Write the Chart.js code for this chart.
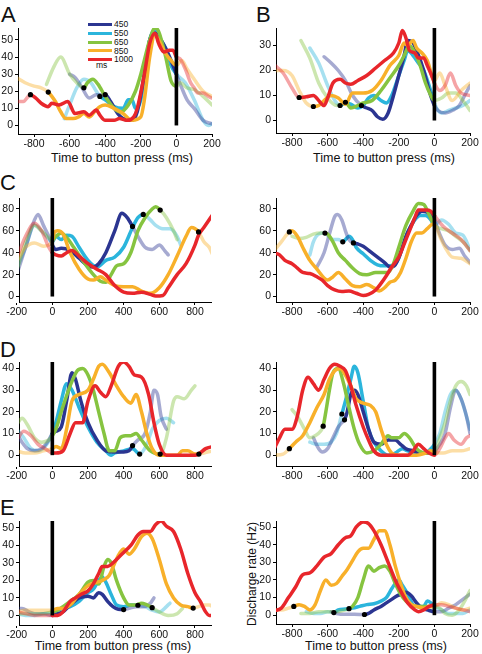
<!DOCTYPE html>
<html>
<head>
<meta charset="utf-8">
<script src="https://cdn.jsdelivr.net/npm/chart.js@4.4.1/dist/chart.umd.min.js"></script>
<style>
  body { margin: 0; background: #fff; width: 482px; height: 654px; overflow: hidden; position: relative; font-family: "Liberation Sans", Arial, sans-serif; }
  canvas { position: absolute; }
  .txt { position: absolute; color: #111; white-space: nowrap; }
  .letter { font-size: 22px; line-height: 22px; }
  .title { font-size: 12.5px; line-height: 16px; text-align: center; width: 220px; }
  .leg { font-size: 8.5px; line-height: 10px; }
  .legline { position: absolute; height: 3px; width: 24px; }
</style>
</head>
<body>

<div class="txt letter" style="left:1px;top:4px">A</div>
<div class="txt letter" style="left:256px;top:4px">B</div>
<div class="txt letter" style="left:0px;top:172px">C</div>
<div class="txt letter" style="left:0px;top:339px">D</div>
<div class="txt letter" style="left:0px;top:497px">E</div>

<div class="txt title" style="left:12px;top:150px">Time to button press (ms)</div>
<div class="txt title" style="left:274px;top:150px">Time to button press (ms)</div>
<div class="txt title" style="left:3px;top:638px">Time from button press (ms)</div>
<div class="txt title" style="left:266px;top:638px">Time to button press (ms)</div>
<div class="txt title" style="left:142px;top:566px;transform:rotate(-90deg);font-size:12px">Discharge rate (Hz)</div>

<div id="legend"></div>

<script>
// durees des essais (ms) et couleurs
const durations = ["450", "550", "650", "850", "1000"];
const lineColors = ["#2b3591", "#2bb5dc", "#86c440", "#f8b02a", "#e8262b"];

// ticks
const toTicks = [-800, -600, -400, -200, 0, 200];
const fromTicks = [-200, 0, 200, 400, 600, 800];
const aYTicks = [0, 10, 20, 30, 40, 50];
const bYTicks = [0, 10, 20, 30];
const cYTicks = [0, 20, 40, 60, 80];
const dYTicks = [0, 10, 20, 30, 40];
const eYTicks = [0, 10, 20, 30, 40, 50];

// Panel A (temps avant appui) [t, Hz]
const a450 = [[-600,30],[-570,28],[-530,22],[-490,16],[-450,18],[-400,18],[-370,14],[-330,7],[-300,4],[-250,3],[-220,8],[-180,30],[-150,50],[-120,54],[-100,52],[-60,45],[-30,38],[0,30],[30,22],[60,15],[100,10],[150,3],[200,1]];
const a550 = [[-630,4],[-600,12],[-560,22],[-520,27],[-480,25],[-450,20],[-430,17],[-400,15],[-350,11],[-300,10],[-270,15],[-250,15],[-230,10],[-200,15],[-150,50],[-120,56],[-100,52],[-60,45],[-30,35],[0,30],[50,25],[100,15],[150,3],[180,0],[200,1]];
const a650 = [[-730,24],[-690,34],[-650,40],[-600,30],[-560,25],[-520,22],[-500,25],[-470,27],[-440,24],[-400,17],[-350,10],[-310,8],[-270,12],[-230,20],[-200,30],[-150,50],[-120,57],[-100,55],[-60,40],[-30,26],[0,23],[20,25],[60,22],[100,21],[150,17],[200,12]];
const a850 = [[-900,28],[-850,25],[-800,23],[-760,22],[-720,19.5],[-700,17],[-680,14],[-650,8],[-620,4],[-580,4],[-550,5],[-520,7],[-490,5],[-460,8],[-430,11],[-400,12],[-350,10],[-300,7],[-250,3],[-200,5],[-180,15],[-150,40],[-120,53],[-100,50],[-60,42],[-30,38],[0,35],[30,38],[60,33],[100,27],[150,20],[200,17]];
const a1000 = [[-900,14],[-860,14],[-820,18],[-790,16],[-760,13],[-720,11],[-700,13],[-660,12],[-610,14],[-570,7],[-520,8],[-490,6],[-450,9],[-430,6],[-400,3],[-350,3],[-320,4],[-280,3],[-240,5],[-220,10],[-180,30],[-150,48],[-120,54],[-100,48],[-70,43],[-40,44],[-20,44],[0,40],[20,39],[50,33],[80,25],[100,22],[120,19],[150,19],[180,17],[200,16]];
const aDots = [[-400,18],[-430,17],[-520,22],[-720,19.5],[-820,18]];

// Panel B
const b450 = [[-620,25.5],[-580,23],[-540,20],[-500,16],[-460,10],[-410,6],[-380,5],[-350,4],[-320,1.5],[-290,0.5],[-260,3],[-230,10],[-200,18],[-170,26],[-150,32],[-120,31],[-100,28],[-60,20],[-30,12],[0,6],[20,4],[60,3],[100,4],[140,6],[170,10],[200,14]];
const b550 = [[-700,29],[-650,23],[-600,14],[-560,8],[-530,6],[-500,7],[-470,6.5],[-430,5],[-400,6],[-370,9],[-340,10],[-300,8],[-270,7],[-240,10],[-200,18],[-170,24],[-150,28],[-120,26],[-90,23],[-60,20],[-30,14],[0,7],[20,4],[40,3],[80,4],[120,5],[160,6],[200,8]];
const b650 = [[-750,32],[-700,25],[-650,15],[-600,9],[-550,6],[-500,7.3],[-470,5],[-430,6],[-400,7],[-350,8],[-300,12],[-250,17],[-200,22],[-170,26],[-140,30],[-110,27],[-80,22],[-50,15],[-20,10],[0,8],[40,9],[80,11],[120,11],[160,8],[200,4]];
const b850 = [[-900,20],[-850,20],[-800,18],[-760,12],[-720,7],[-680,5.6],[-650,6],[-620,8],[-580,10],[-540,9],[-500,6.5],[-460,11],[-400,11],[-350,12],[-300,16],[-250,22],[-200,26],[-170,31],[-150,30],[-120,32],[-100,29],[-70,27],[-40,24],[0,16],[30,19],[60,14],[100,8],[150,12],[200,15]];
const b1000 = [[-900,22.3],[-850,19],[-800,13],[-760,9.2],[-720,9.5],[-680,10],[-650,8],[-620,6],[-600,9],[-570,15],[-530,16.5],[-500,15],[-470,14.5],[-430,16],[-380,18],[-330,21],[-280,24],[-230,27],[-200,31],[-180,36],[-160,33],[-140,28],[-110,27],[-90,25],[-60,25],[-40,22],[-10,17],[0,15],[30,12],[60,14],[90,19],[120,14],[150,11],[200,10]];
const bDots = [[-410,6],[-530,6],[-500,7.3],[-680,5.6],[-760,9.2]];

// Panel C gauche (temps depuis l'appui)
const cL450 = [[-200,20],[-150,45],[-100,70],[-80,75],[-50,65],[-20,55],[0,47],[20,43],[50,44],[100,42],[150,35],[200,28],[230,27],[260,30],[300,40],[350,60],[390,76],[420,72],[450,64],[480,55],[520,45],[560,43],[600,47],[630,42],[650,38]];
const cL550 = [[-200,25],[-150,45],[-100,65],[-50,58],[0,50],[20,55],[50,52],[80,56],[110,55],[150,45],[200,33],[250,27],[300,33],[350,36],[400,45],[450,63],[480,72],[510,75],[550,70],[580,65],[620,62],[660,62],[700,55],[720,47]];
const cL650 = [[-200,23],[-150,50],[-100,65],[-60,60],[0,52],[20,55],[50,58],[80,54],[120,45],[170,33],[220,22],[270,14],[300,13],[330,20],[360,28],[400,30],[440,40],[480,60],[520,72],[560,80],[580,82],[605,79],[640,72],[680,60],[700,52]];
const cL850 = [[-200,32],[-150,45],[-100,49],[-50,46],[0,50],[10,58],[30,60],[60,57],[100,40],[150,25],[200,16],[230,15],[270,18],[300,15],[350,10],[400,9],[450,9],[500,5],[550,3],[600,8],[650,20],[700,37],[750,55],[780,63],[820,59],[850,50],[880,45],[900,38]];
const cL1000 = [[-200,35],[-150,55],[-100,67],[-60,60],[-20,45],[0,40],[20,38],[50,37],[80,40],[110,42],[150,37],[200,30],[250,25],[300,20],[350,10],[400,4],[450,3],[500,4],[550,2],[580,0.5],[620,1],[650,8],[700,20],[750,30],[800,47],[820,56],[850,63],[900,75]];
const cLDots = [[450,64],[510,75],[605,79],[820,59],null];

// Panel C droite
const cR450 = [[-660,27],[-620,40],[-590,57],[-560,73],[-545,75],[-520,70],[-500,60],[-480,52],[-455,49],[-430,48],[-400,46],[-360,41],[-320,36],[-280,31],[-250,27],[-220,29],[-190,40],[-160,55],[-130,65],[-100,74],[-70,78],[-40,77],[0,70],[30,57],[60,47],[100,43],[140,44],[170,37],[200,31]];
const cR550 = [[-700,38],[-680,50],[-650,57],[-620,58],[-600,56],[-570,52],[-540,52],[-515,50],[-500,52],[-480,55],[-460,52],[-440,45],[-400,39],[-360,33],[-320,29],[-280,28],[-250,28],[-220,30],[-200,35],[-170,50],[-140,62],[-110,70],[-80,74],[-50,74],[-20,70],[0,65],[40,70],[80,66],[120,58],[160,56],[200,43]];
const cR650 = [[-800,55],[-760,53],[-720,54],[-680,57],[-640,58],[-615,58],[-600,57],[-570,50],[-540,40],[-500,33],[-460,26],[-420,21],[-380,20],[-330,22],[-290,22],[-260,22],[-230,30],[-200,45],[-160,65],[-120,78],[-90,85],[-60,84],[-30,75],[0,65],[40,62],[80,60],[120,55],[160,50],[200,42]];
const cR850 = [[-900,42],[-860,50],[-815,59],[-800,60],[-770,55],[-740,45],[-700,33],[-660,25],[-620,17],[-600,15],[-570,18],[-540,22],[-500,16],[-460,10],[-420,9],[-380,11],[-340,8],[-310,5],[-280,8],[-250,13],[-220,15],[-190,22],[-160,35],[-130,50],[-100,58],[-70,58],[-40,62],[-10,66],[0,66],[30,55],[60,45],[100,36],[150,35],[200,30]];
const cR1000 = [[-900,40],[-870,38],[-840,33],[-800,30],[-770,26],[-740,22],[-700,21],[-660,18],[-630,15],[-600,10],[-560,6],[-520,4.5],[-480,5],[-440,3],[-400,1],[-370,2],[-330,6],[-300,12],[-270,19],[-240,27],[-200,36],[-170,48],[-140,60],[-110,72],[-90,79],[-50,79],[-20,78],[0,74],[50,64],[100,58],[150,52],[200,42]];
const cRDots = [[-455,49],[-515,50],[-615,58],[-815,59],null];

// Panel D gauche
const dL450 = [[-200,10],[-170,6],[-140,3],[-100,2],[-60,3],[-20,7],[0,10],[20,11],[50,13],[80,25],[110,38],[130,35],[160,25],[200,15],[250,7],[300,2],[350,1.5],[400,1.5],[430,2],[450,4.4],[480,7],[520,10],[550,20],[570,30],[590,28],[610,18],[640,12]];
const dL550 = [[-200,12],[-160,8],[-120,3],[-80,2],[-40,4],[0,10],[20,15],[50,25],[80,33],[110,30],[150,22],[200,13],[250,6],[300,2],[330,0],[350,1],[400,2],[450,3],[490,0.5],[530,5],[560,12],[600,16],[640,17],[680,15]];
const dL650 = [[-200,14],[-170,17],[-140,14],[-100,8],[-60,6],[-20,7],[0,9],[20,12],[50,20],[100,32],[140,39],[170,40],[200,37],[230,30],[260,20],[290,10],[320,2],[350,2],[380,8],[410,9],[440,9],[470,10],[500,7],[550,2],[605,0.5],[640,8],[680,25],[700,27],[740,26],[780,30],[800,32]];
const dL850 = [[-200,2],[-150,1],[-100,1],[-50,2],[0,3],[20,4],[50,3],[80,12],[110,25],[150,28],[200,30],[230,35],[260,41],[280,42],[320,38],[360,32],[400,27],[440,24],[470,28],[500,20],[530,10],[560,3],[600,0],[650,0],[700,0],[730,2],[760,2],[800,0.5],[822,0.5],[850,1],[900,2]];
const dL1000 = [[-200,7],[-160,11],[-120,9],[-80,5],[-40,3],[0,1],[20,1],[60,2],[100,10],[130,15],[170,15],[200,25],[240,32],[270,29],[300,27],[330,32],[370,41],[400,43],[430,41],[460,37],[500,36],[540,28],[570,15],[600,5],[640,0],[700,0],[750,0],[800,0],[820,0.5],[860,3],[900,4]];
const dLDots = [[450,4.4],[490,0.5],[605,0.5],[822,0.5],null];

// Panel D droite
const dR450 = [[-680,8],[-650,3],[-630,1.5],[-600,3],[-570,8],[-540,13],[-520,15],[-505,16.3],[-490,20],[-470,28],[-450,30],[-430,28],[-400,20],[-370,12],[-340,6],[-300,5],[-260,7],[-220,7],[-190,5],[-160,3],[-120,2],[-80,1],[-40,1],[0,2],[30,5],[60,10],[90,22],[120,30],[150,26],[180,18],[200,10]];
const dR550 = [[-700,6],[-660,5],[-620,5],[-580,6],[-550,10],[-520,19],[-500,25],[-470,35],[-450,41],[-430,38],[-400,25],[-370,12],[-340,6],[-300,2],[-260,0],[-220,1],[-180,3],[-150,2],[-100,1],[-50,1],[-20,3],[0,5],[30,10],[60,20],[90,28],[120,30],[150,26],[180,18],[200,12]];
const dR650 = [[-800,21],[-770,18],[-730,12],[-700,8],[-670,9],[-640,11],[-625,13.4],[-610,20],[-590,30],[-570,38],[-540,40],[-510,33],[-480,22],[-450,12],[-420,5],[-380,1],[-340,2],[-300,5],[-260,9],[-240,8],[-200,8],[-170,10],[-140,8],[-100,3],[-50,1],[0,1],[30,8],[60,15],[90,25],[120,32],[150,34],[180,32],[200,28]];
const dR850 = [[-900,0],[-850,0.5],[-815,3],[-780,6],[-740,9],[-700,15],[-660,22],[-620,28],[-590,35],[-560,39],[-530,40],[-500,37],[-470,32],[-440,26],[-400,24],[-360,23],[-330,20],[-300,12],[-270,5],[-240,1],[-200,0],[-150,0],[-100,0],[-50,1],[-20,2],[0,1],[50,1],[100,2],[150,2],[200,3]];
const dR1000 = [[-900,3],[-870,8],[-840,12],[-800,12],[-770,18],[-740,30],[-710,36],[-680,33],[-650,30],[-620,35],[-590,40],[-560,42],[-530,41],[-500,39],[-470,32],[-440,23],[-400,13],[-370,7],[-340,2],[-300,0],[-250,0],[-200,0],[-150,0],[-120,2],[-90,5],[-60,3],[-30,1],[0,0],[30,3],[60,8],[80,10],[110,7],[150,5],[180,8],[200,9]];
const dRDots = [[-505,16.3],[-520,19],[-625,13.4],[-815,3],null];

// Panel E gauche
const eL450 = [[-200,4],[-170,4],[-130,2],[-100,1],[-50,1],[0,0],[30,1],[60,2],[100,6],[150,10],[200,11],[230,10],[260,13],[280,12],[310,8],[340,5],[370,3.5],[400,3.3],[430,4],[470,5],[510,5],[550,7],[570,10]];
const eL550 = [[-200,1],[-150,0],[-100,0],[-50,1],[0,2],[30,3],[60,4],[100,5],[150,8],[200,13],[230,15],[260,20],[280,22],[300,19],[330,12],[360,6],[400,5],[440,6],[480,5.8],[520,5],[560,3],[600,2],[640,5],[660,7]];
const eL650 = [[-200,1],[-150,1],[-100,1],[-50,1],[0,2],[30,3],[60,5],[100,8],[150,12],[200,19],[230,20],[260,18],[290,28],[310,32],[330,30],[360,20],[400,10],[430,6],[470,6],[500,7],[530,6],[560,4.4],[600,2],[650,0],[700,1],[730,4]];
const eL850 = [[-200,2],[-150,3],[-100,3],[-50,3],[0,3],[30,4],[60,4],[100,6],[150,12],[200,17],[250,19],[280,20],[320,23],[350,30],[380,36],[400,38],[430,35],[460,38],[500,45],[530,47],[560,44],[600,32],[640,18],[680,10],[720,6],[760,5],[790,4.2],[820,5],[850,6],[880,6],[900,5]];
const eL1000 = [[-200,2],[-150,1],[-100,0],[-50,0],[0,0],[30,0],[60,2],[100,8],[130,10],[160,12],[200,14],[230,18],[260,24],[280,28],[310,28],[340,30],[370,33],[400,36],[440,40],[480,46],[510,48],[550,48],[580,52],[610,54],[640,51],[680,48],[720,38],[760,24],[800,13],[830,8],[860,2],[880,0],[900,0]];
const eLDots = [[400,3.3],[480,5.8],[560,4.4],[790,4.2],null];

// Panel E droite
const eR450 = [[-580,2],[-550,1],[-500,0.5],[-450,0.5],[-393,0.4],[-370,1],[-340,3],[-300,5],[-270,7],[-240,9],[-210,11],[-180,12],[-160,13],[-130,11],[-100,7],[-70,4],[-40,3],[0,2],[40,2],[80,4],[120,6],[160,9],[200,12]];
const eR550 = [[-720,2],[-680,1],[-640,1],[-600,2],[-565,1.5],[-540,3],[-500,3.5],[-460,4],[-420,5],[-380,6],[-340,6.5],[-300,8],[-270,10],[-240,15],[-220,18],[-200,20],[-180,17],[-150,12],[-120,6],[-90,5],[-60,5],[-40,8],[-20,7],[0,5],[40,3],[80,1],[120,1],[160,1],[200,3]];
const eR650 = [[-750,1],[-700,1],[-650,2],[-600,2],[-550,2],[-520,2.5],[-480,3.7],[-460,5],[-430,10],[-400,20],[-370,28],[-340,25],[-310,27],[-280,28],[-250,25],[-220,18],[-190,12],[-160,8],[-130,6],[-100,5],[-60,5],[-30,5],[0,5],[30,4],[60,1],[100,0],[140,3],[170,8],[200,14]];
const eR850 = [[-900,3],[-860,3],[-820,4],[-790,5],[-760,6],[-730,5],[-700,3],[-670,6],[-640,14],[-610,20],[-580,17],[-550,18],[-520,22],[-490,26],[-460,31],[-430,36],[-400,38],[-370,38],[-340,43],[-310,48],[-280,48],[-250,40],[-220,28],[-190,18],[-160,10],[-130,6],[-100,5],[-60,4],[-30,5],[0,5],[40,7],[80,6],[120,4],[160,3],[200,4]];
const eR1000 = [[-900,2.5],[-860,4],[-820,10],[-780,16],[-740,23],[-700,24],[-660,28],[-620,33],[-580,35],[-540,40],[-500,44],[-470,45],[-440,50],[-400,53],[-370,52],[-340,48],[-300,40],[-260,30],[-220,20],[-180,12],[-150,7],[-110,3],[-90,2],[-60,3],[-30,5],[0,6],[40,6],[80,5],[120,4],[160,3],[200,2]];
const eRDots = [[-393,0.4],[-565,1.5],[-480,3.7],[-790,5],null];

// position des panneaux (pixel du 0, px par unite)
const panels = [
  { series: [a450, a550, a650, a850, a1000], dots: aDots, mode: "to", x0: 176, y0: 125, ky: 1.7, ymin: -5, ymax: 57, yTicks: aYTicks },
  { series: [b450, b550, b650, b850, b1000], dots: bDots, mode: "to", x0: 434, y0: 120.7, ky: 2.5, ymin: -5, ymax: 37, yTicks: bYTicks },
  { series: [cL450, cL550, cL650, cL850, cL1000], dots: cLDots, mode: "from", x0: 52.3, y0: 296.7, ky: 1.1, ymin: -5, ymax: 90, yTicks: cYTicks },
  { series: [cR450, cR550, cR650, cR850, cR1000], dots: cRDots, mode: "to", x0: 434, y0: 296.7, ky: 1.1, ymin: -5, ymax: 90, yTicks: cYTicks },
  { series: [dL450, dL550, dL650, dL850, dL1000], dots: dLDots, mode: "from", x0: 52.3, y0: 455, ky: 2.17, ymin: -5, ymax: 43, yTicks: dYTicks },
  { series: [dR450, dR550, dR650, dR850, dR1000], dots: dRDots, mode: "to", x0: 434, y0: 455, ky: 2.17, ymin: -5, ymax: 43, yTicks: dYTicks },
  { series: [eL450, eL550, eL650, eL850, eL1000], dots: eLDots, mode: "from", x0: 52.3, y0: 615, ky: 1.74, ymin: -5.5, ymax: 54, yTicks: eYTicks },
  { series: [eR450, eR550, eR650, eR850, eR1000], dots: eRDots, mode: "to", x0: 434, y0: 615, ky: 1.76, ymin: -5, ymax: 53.5, yTicks: eYTicks },
];

const kx = 0.178;
const padL = 40, padT = 6, padR = 12, padB = 22;
const tickFont = { family: "'Liberation Sans', Arial, sans-serif", size: 10.5 };

function fade(hex, a) {
  const n = parseInt(hex.slice(1), 16);
  return `rgba(${(n >> 16) & 255},${(n >> 8) & 255},${n & 255},${a})`;
}

// legende (panneau A)
const legend = document.getElementById("legend");
const legY = [24.3, 33.3, 42, 50.7, 59.3];
durations.forEach((d, i) => {
  const ln = document.createElement("div");
  ln.className = "legline";
  ln.style.cssText = `left:88px;top:${legY[i] - 1.5}px;background:${lineColors[i]}`;
  legend.appendChild(ln);
  const tx = document.createElement("div");
  tx.className = "txt leg";
  tx.style.cssText = `left:114px;top:${legY[i] - 5}px`;
  tx.textContent = d;
  legend.appendChild(tx);
});
const ms = document.createElement("div");
ms.className = "txt leg";
ms.style.cssText = "left:96px;top:59.5px";
ms.textContent = "ms";
legend.appendChild(ms);

panels.forEach((p) => {
  const xmin = p.mode === "to" ? -890 : -187;
  const xmax = p.mode === "to" ? 200 : 890;
  const xTicks = p.mode === "to" ? toTicks : fromTicks;
  const l = Math.round(p.x0 + xmin * kx), r = Math.round(p.x0 + xmax * kx);
  const t = Math.round(p.y0 - p.ymax * p.ky), b = Math.round(p.y0 - p.ymin * p.ky);

  const cv = document.createElement("canvas");
  const w = r - l + padL + padR, h = b - t + padT + padB;
  cv.width = w; cv.height = h;
  cv.style.left = (l - padL) + "px";
  cv.style.top = (t - padT) + "px";
  cv.style.width = w + "px"; cv.style.height = h + "px";
  document.body.appendChild(cv);

  const datasets = [];
  // points noirs
  datasets.push({
    data: p.dots.filter(Boolean).map(([x, y]) => ({ x, y })),
    showLine: false, pointRadius: 2.6, pointBackgroundColor: "#000", pointBorderWidth: 0,
  });
  // barre verticale a 0
  datasets.push({
    data: [{ x: 0, y: 0 }, { x: 0, y: p.ymax }],
    borderColor: "#000", borderWidth: 3.6, pointRadius: 0, borderCapStyle: "butt",
  });
  // courbes : rouge au-dessus
  [4, 3, 2, 0, 1].forEach((i) => {
    const dot = p.dots[i];
    const lo = p.mode === "to" ? (dot ? dot[0] : -Infinity) : 0;
    const hi = p.mode === "to" ? 0 : (dot ? dot[0] : Infinity);
    const col = lineColors[i], light = fade(lineColors[i], 0.42);
    datasets.push({
      data: p.series[i].map(([x, y]) => ({ x, y })),
      borderColor: col, borderWidth: 3.5, pointRadius: 0,
      cubicInterpolationMode: "monotone", borderJoinStyle: "round", borderCapStyle: "round",
      segment: {
        borderColor: (ctx) => (ctx.p0.parsed.x >= lo - 0.01 && ctx.p1.parsed.x <= hi + 0.01 ? col : light),
      },
    });
  });

  new Chart(cv.getContext("2d"), {
    type: "line",
    data: { datasets },
    options: {
      responsive: false,
      animation: false,
      layout: { padding: { left: 0, top: padT, right: padR, bottom: 0 } },
      plugins: { legend: { display: false }, tooltip: { enabled: false } },
      scales: {
        x: {
          type: "linear", min: xmin, max: xmax,
          afterBuildTicks: (s) => { s.ticks = xTicks.map((v) => ({ value: v })); },
          afterFit: (s) => { s.height = padB; s.paddingLeft = 0; s.paddingRight = 0; },
          ticks: { font: tickFont, color: "#111", padding: 1, maxRotation: 0, autoSkip: false },
          grid: { drawOnChartArea: false, tickLength: 3, color: "#000" },
          border: { color: "#000", width: 1 },
        },
        y: {
          min: p.ymin, max: p.ymax,
          afterBuildTicks: (s) => { s.ticks = p.yTicks.map((v) => ({ value: v })); },
          afterFit: (s) => { s.width = padL; s.paddingTop = 0; s.paddingBottom = 0; },
          ticks: { font: tickFont, color: "#111", padding: 2 },
          grid: { drawOnChartArea: false, tickLength: 3, color: "#000" },
          border: { color: "#000", width: 1 },
        },
      },
    },
  });
});
</script>
</body>
</html>
